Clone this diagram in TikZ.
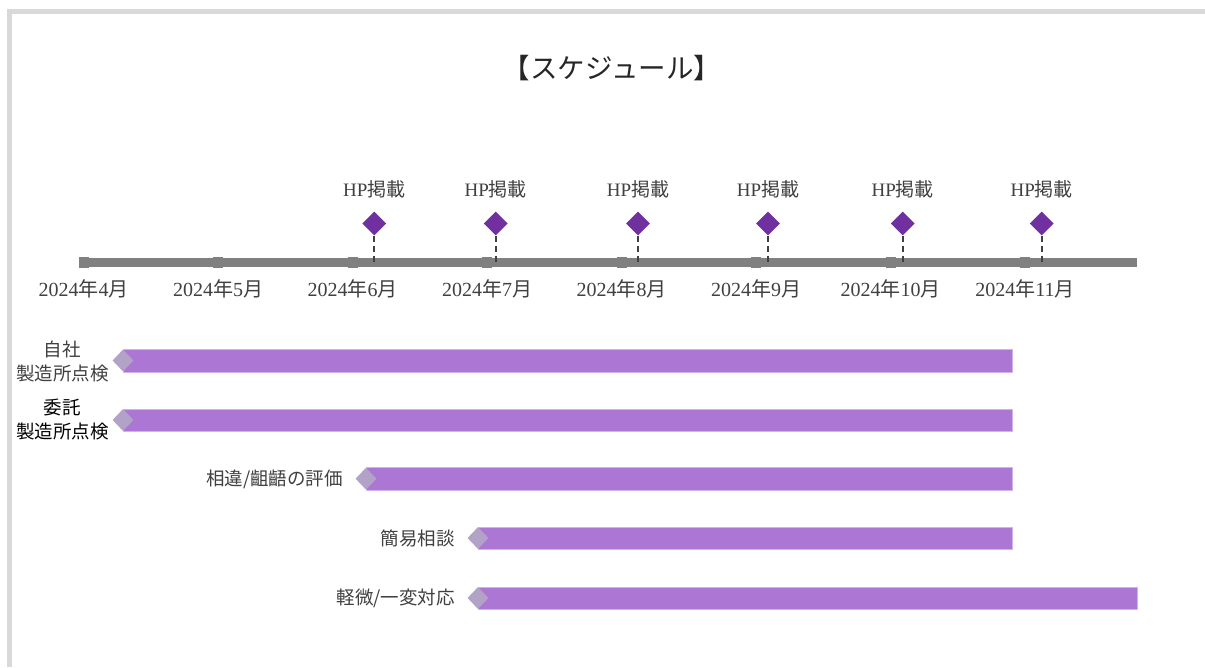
\documentclass[tikz,border=0pt]{standalone}
\usepackage{fontspec}
\setmainfont{Liberation Serif}
\newfontfamily\cjk{Noto Sans CJK JP}
\usetikzlibrary{shapes.geometric}
\definecolor{axisgray}{HTML}{808080}
\definecolor{hpviolet}{HTML}{7030A0}
\definecolor{barviolet}{HTML}{AC76D4}
\definecolor{startgray}{HTML}{B3A2C7}
\definecolor{framegray}{HTML}{D9D9D9}
\definecolor{txtgray}{HTML}{404040}
\newcommand{\ym}[1]{2024{\cjk 年}#1{\cjk 月}}
\begin{document}
\begin{tikzpicture}[x=1pt,y=-1pt,
  titlestyle/.style={font=\cjk\fontsize{27.5}{27.5}\selectfont, text=black!85, inner sep=0},
  monthlabel/.style={font=\fontsize{20}{20}\selectfont, text=txtgray, inner sep=0},
  hplabel/.style={font=\fontsize{19}{19}\selectfont, text=txtgray, inner sep=0},
  hpmark/.style={diamond, fill=hpviolet, inner sep=0, minimum width=24pt, minimum height=24pt},
  hpline/.style={draw=txtgray, line width=1.8pt, dash pattern=on 6pt off 4pt},
  tickmark/.style={rectangle, fill=axisgray, inner sep=0, minimum width=10pt, minimum height=11pt},
  axisline/.style={draw=axisgray, line width=9pt},
  startmark/.style={diamond, fill=startgray, inner sep=0, minimum width=21pt, minimum height=22pt},
  barstyle/.style={fill=barviolet, draw=barviolet!55!white, line width=0.6pt},
  rowlabel/.style={font=\cjk\fontsize{18.5}{24}\selectfont, inner sep=0, align=center, text=txtgray},
]
\useasboundingbox (0,0) rectangle (1205,667);
\fill[white] (0,0) rectangle (1205,667);
% frame
\fill[framegray] (7,9) rectangle (1205,14);
\fill[framegray] (7,9) rectangle (12,667);

% title
\node[titlestyle] (title) at (612,68) {【スケジュール】};

% axis
\coordinate (axisL) at (79,262.5);
\coordinate (axisR) at (1137,262.5);
\draw[axisline] (axisL) -- (axisR);
\foreach \m [count=\i from 0] in {4,5,6,7,8,9,10,11} {
  \pgfmathsetmacro{\xx}{83.5+\i*134.5}
  \node[tickmark] (t\m) at (\xx,262.5) {};
  \node[monthlabel] (m\m) at (\xx,289) {\ym{\m}};
}

% HP milestones
\foreach \x [count=\i] in {374.3,495.7,638,768,902.7,1041.7} {
  \node[hplabel] (hpl\i) at (\x,189) {HP{\cjk 掲載}};
  \coordinate (hpa\i) at (\x,263);
  \draw[hpline] (\x,235.5) -- (hpa\i);
  \node[hpmark] (hp\i) at (\x,223.5) {};
}

% bars
\draw[barstyle] (123,349) rectangle (1012,372);
\node[startmark] (s1) at (123,360.5) {};
\draw[barstyle] (123,409) rectangle (1012,431);
\node[startmark] (s2) at (123,420) {};
\draw[barstyle] (366,467.5) rectangle (1012,490);
\node[startmark] (s3) at (366,478.7) {};
\draw[barstyle] (478,527) rectangle (1012,549.5);
\node[startmark] (s4) at (478,538) {};
\draw[barstyle] (478,587) rectangle (1137,609);
\node[startmark] (s5) at (478,598) {};

% row labels
\node[rowlabel] (r1) at (62.5,361) {自社\\製造所点検};
\node[rowlabel, text=black] (r2) at (62.5,420) {委託\\製造所点検};
\node[rowlabel, anchor=east] (r3) at (343,479) {相違/齟齬の評価};
\node[rowlabel, anchor=east] (r4) at (455,538) {簡易相談};
\node[rowlabel, anchor=east] (r5) at (455,598) {軽微/一変対応};
\end{tikzpicture}
\end{document}
